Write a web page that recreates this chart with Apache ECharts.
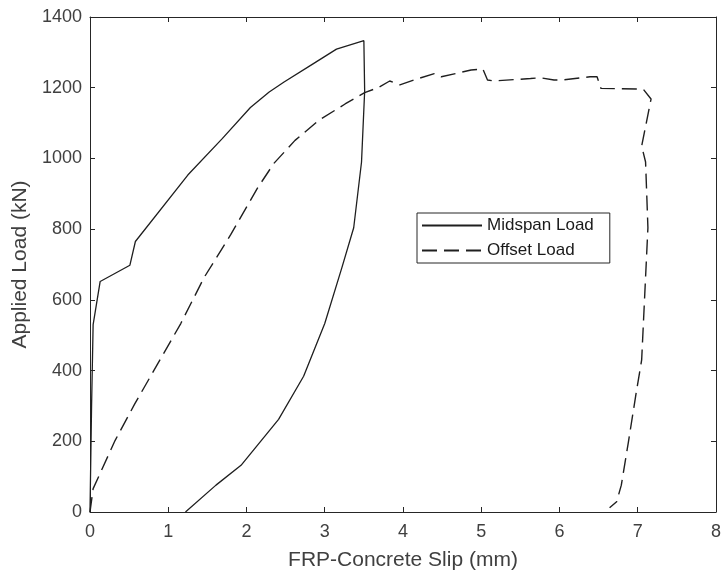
<!DOCTYPE html>
<html>
<head>
<meta charset="utf-8">
<script src="https://cdn.jsdelivr.net/npm/echarts@6/dist/echarts.min.js"></script>
<style>html,body{margin:0;padding:0;background:#fff}#c{width:724px;height:576px}</style>
</head>
<body>
<div id="c"></div>
<script>
var xTicks = [0, 1, 2, 3, 4, 5, 6, 7, 8];
var yTicks = [0, 200, 400, 600, 800, 1000, 1200, 1400];
var midspanLoad = [
  [0, 0], [0.02, 300], [0.04, 530], [0.13, 652], [0.51, 698], [0.58, 765],
  [1.25, 953], [1.69, 1056], [2.05, 1144], [2.29, 1188], [2.48, 1216],
  [2.84, 1266], [3.15, 1309], [3.5, 1333], [3.51, 1190], [3.47, 990],
  [3.37, 804], [3.22, 692], [3.0, 533], [2.73, 384], [2.41, 262],
  [1.93, 132], [1.61, 76], [1.22, 0]
];
var offsetLoad = [
  [0, 0], [0.04, 66], [0.32, 202], [0.57, 305], [1.16, 533], [1.46, 664],
  [1.80, 785], [2.14, 916], [2.35, 986], [2.62, 1051], [2.92, 1107],
  [3.26, 1154], [3.51, 1186], [3.68, 1200], [3.83, 1219], [3.96, 1208],
  [4.17, 1224], [4.40, 1240], [4.49, 1231], [4.87, 1250], [5.02, 1253],
  [5.08, 1222], [5.16, 1219], [5.63, 1226], [5.76, 1228], [5.93, 1222],
  [6.05, 1222], [6.39, 1231], [6.48, 1231], [6.53, 1198], [7.07, 1196],
  [7.17, 1168], [7.05, 1035], [7.10, 990], [7.13, 804], [7.09, 617],
  [7.05, 430], [6.98, 337], [6.88, 197], [6.79, 76], [6.73, 29], [6.64, 12]
];
var seriesNames = ['Midspan Load', 'Offset Load'];
var xName = 'FRP-Concrete Slip (mm)';
var yName = 'Applied Load (kN)';

var FONT = 'Liberation Sans, Arial, sans-serif';
var AX = '#262626';
var TXT = '#404040';
var chart = echarts.init(document.getElementById('c'), null, {renderer: 'canvas'});

function plain(v) { return String(v); }

function xAxisDef(pos, main) {
  return {
    type: 'value', position: pos, min: xTicks[0], max: xTicks[xTicks.length - 1], interval: 1,
    name: main ? xName : '', nameLocation: 'middle', nameGap: 38,
    nameTextStyle: {fontFamily: FONT, fontSize: 21, color: TXT},
    axisLine: {show: true, onZero: false, lineStyle: {color: AX, width: 1}},
    axisTick: {show: true, inside: true, length: 5, lineStyle: {color: AX}},
    axisLabel: {show: main, margin: 11, fontFamily: FONT, fontSize: 18, color: TXT, formatter: plain},
    splitLine: {show: false}
  };
}
function yAxisDef(pos, main) {
  return {
    type: 'value', position: pos, min: yTicks[0], max: yTicks[yTicks.length - 1], interval: 200,
    name: main ? yName : '', nameLocation: 'middle', nameGap: 59, nameRotate: 90,
    nameTextStyle: {fontFamily: FONT, fontSize: 21, color: TXT},
    axisLine: {show: true, onZero: false, lineStyle: {color: AX, width: 1}},
    axisTick: {show: true, inside: true, length: 5, lineStyle: {color: AX}},
    axisLabel: {show: main, margin: 8, fontFamily: FONT, fontSize: 18, color: TXT, formatter: plain},
    splitLine: {show: false}
  };
}

chart.setOption({
  animation: false,
  backgroundColor: '#fff',
  grid: {left: 90, right: 4, top: 17, bottom: 59, containLabel: false},
  xAxis: [xAxisDef('bottom', true), xAxisDef('top', false)],
  yAxis: [yAxisDef('left', true), yAxisDef('right', false)],
  legend: {
    orient: 'vertical', left: 417, top: 213,
    data: seriesNames,
    backgroundColor: '#fff', borderColor: AX, borderWidth: 1,
    padding: [4, 16, 4, 4], itemGap: 8, itemWidth: 60, itemHeight: 14,
    itemStyle: {opacity: 0},
    textStyle: {fontFamily: FONT, fontSize: 17, color: '#1a1a1a'}
  },
  series: [
    {
      name: seriesNames[0], type: 'line', data: midspanLoad, xAxisIndex: 0, yAxisIndex: 0,
      symbol: 'none', showSymbol: false, smooth: false,
      lineStyle: {color: '#1f1f1f', width: 1.3, type: 'solid'}, itemStyle: {color: '#1f1f1f'}
    },
    {
      name: seriesNames[1], type: 'line', data: offsetLoad, xAxisIndex: 0, yAxisIndex: 0,
      symbol: 'none', showSymbol: false, smooth: false,
      lineStyle: {color: '#1f1f1f', width: 1.4, type: [15, 7]}, itemStyle: {color: '#1f1f1f'}
    }
  ]
});
</script>
</body>
</html>
